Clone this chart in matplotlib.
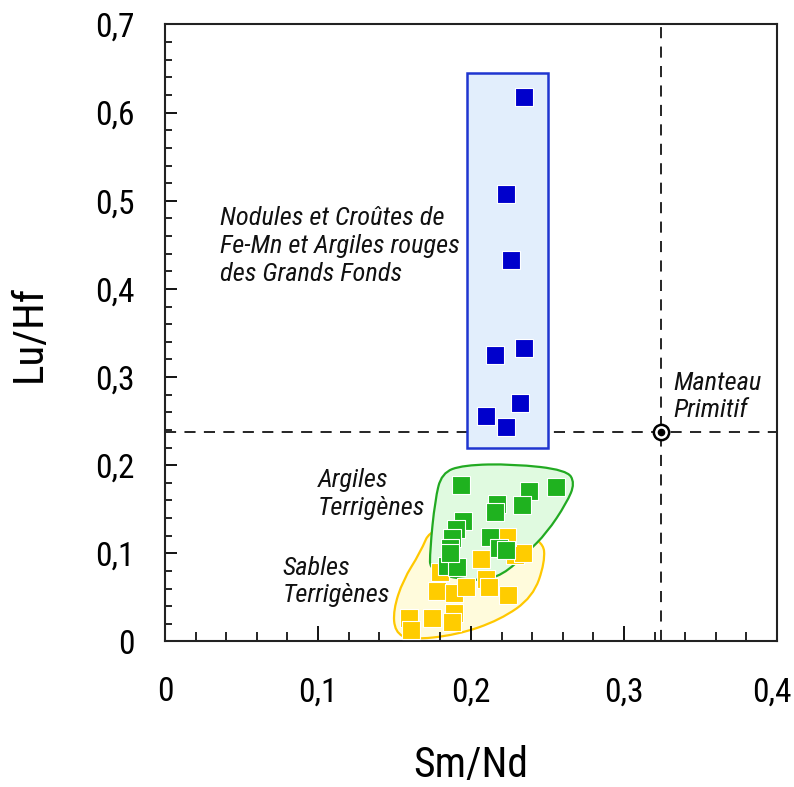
import matplotlib
matplotlib.use("Agg")
import matplotlib.pyplot as plt
from matplotlib import font_manager
from matplotlib.path import Path
from matplotlib.patches import PathPatch, Rectangle
from matplotlib.ticker import MultipleLocator, FixedLocator, FixedFormatter
from matplotlib.transforms import ScaledTranslation

# ---------------- data ----------------
blue_smnd = [0.2346, 0.2229, 0.2261, 0.2346, 0.2157, 0.2320, 0.2098, 0.2229]
blue_luhf = [0.6177, 0.5077, 0.4328, 0.3330, 0.3250, 0.2706, 0.2558, 0.2433]

green_smnd = [0.1933, 0.2379, 0.2556, 0.2168, 0.2157, 0.2331, 0.1950, 0.1902,
              0.1874, 0.1863, 0.2124, 0.2183, 0.2229, 0.1845, 0.1907, 0.1863]
green_luhf = [0.1779, 0.1704, 0.1756, 0.1556, 0.1472, 0.1549, 0.1370, 0.1273,
              0.1171, 0.1057, 0.1189, 0.1061, 0.1038, 0.0856, 0.0849, 0.1007]

yellow_smnd = [0.1597, 0.1606, 0.1743, 0.1891, 0.1874, 0.1776, 0.1891, 0.1967,
               0.2098, 0.2120, 0.2244, 0.1797, 0.2065, 0.2288, 0.2342, 0.2237]
yellow_luhf = [0.0263, 0.0130, 0.0263, 0.0320, 0.0225, 0.0573, 0.0554, 0.0622,
               0.0706, 0.0622, 0.0528, 0.0792, 0.0933, 0.0981, 0.1001, 0.1189]

mantle_smnd = 0.3245
mantle_luhf = 0.238

# field outlines (control points)
green_field_x = [0.1808, 0.1948, 0.2275, 0.2625, 0.2680, 0.2625, 0.2495, 0.2364,
                 0.2209, 0.2039, 0.1732, 0.1732, 0.1765]
green_field_y = [0.1911, 0.2002, 0.2014, 0.1946, 0.1798, 0.1571, 0.1231, 0.1004,
                 0.0754, 0.0678, 0.0777, 0.1038, 0.1605]
yellow_field_x = [0.1743, 0.1667, 0.1556, 0.1492, 0.1503, 0.1601, 0.1907, 0.2190,
                  0.2405, 0.2484, 0.2471, 0.2190]
yellow_field_y = [0.1310, 0.1004, 0.0698, 0.0357, 0.0108, 0.0017, 0.0074, 0.0244,
                  0.0505, 0.0902, 0.1151, 0.1322]
blue_box_x = [0.1974, 0.2503]
blue_box_y = [0.2195, 0.645]

x_ticks = [0, 0.1, 0.2, 0.3, 0.4]
x_ticklabels = ['0', '0,1', '0,2', '0,3', '0,4']
y_ticks = [0, 0.1, 0.2, 0.3, 0.4, 0.5, 0.6, 0.7]
y_ticklabels = ['0', '0,1', '0,2', '0,3', '0,4', '0,5', '0,6', '0,7']

# ---------------- fonts ----------------
names = {f.name for f in font_manager.fontManager.ttflist}
fam = 'Liberation Sans'
for cand in ['Nimbus Sans Narrow', 'Liberation Sans Narrow', 'Roboto Condensed',
             'Archivo Narrow', 'PT Sans Narrow']:
    if cand in names:
        fam = cand
        break
plt.rcParams['font.family'] = [fam, 'DejaVu Sans']
plt.rcParams['lines.scale_dashes'] = False

fig = plt.figure(figsize=(7.94, 7.87), dpi=100)
ax = fig.add_axes([0.2078, 0.1849, 0.9786 - 0.2078, 0.9689 - 0.1849])
ax.set_xlim(0, 0.4)
ax.set_ylim(0, 0.7)


def smooth_closed(xs, ys):
    pts = list(zip(xs, ys))
    n = len(pts)
    mid = lambda a, b: ((a[0] + b[0]) / 2, (a[1] + b[1]) / 2)
    verts = [mid(pts[-1], pts[0])]
    codes = [Path.MOVETO]
    for i in range(n):
        verts += [pts[i], mid(pts[i], pts[(i + 1) % n])]
        codes += [Path.CURVE3, Path.CURVE3]
    return Path(verts, codes)


# dashed reference lines
ax.axhline(mantle_luhf, color='black', lw=1.2, dashes=(8, 6), zorder=0.5)
ax.axvline(mantle_smnd, color='black', lw=1.2, dashes=(8, 6), zorder=0.5)

# fields
ax.add_patch(PathPatch(smooth_closed(yellow_field_x, yellow_field_y),
                       facecolor='#fffbdc', edgecolor='#ffc800', lw=1.6, zorder=1))
ax.add_patch(PathPatch(smooth_closed(green_field_x, green_field_y),
                       facecolor='#e0fae0', edgecolor='#22aa22', lw=1.6, zorder=1.1))
ax.add_patch(Rectangle((blue_box_x[0], blue_box_y[0]),
                       blue_box_x[1] - blue_box_x[0], blue_box_y[1] - blue_box_y[0],
                       facecolor='#e2eefc', edgecolor='#1f35d0', lw=1.8, zorder=1.2))

# points
ax.scatter(yellow_smnd, yellow_luhf, marker='s', s=155, color='#ffcc00',
           edgecolors='white', linewidths=0.8, zorder=3)
ax.scatter(green_smnd, green_luhf, marker='s', s=155, color='#1fb21f',
           edgecolors='white', linewidths=0.8, zorder=4)
ax.scatter(blue_smnd, blue_luhf, marker='s', s=155, color='#0000cc',
           edgecolors='white', linewidths=0.8, zorder=4)

ax.plot([mantle_smnd], [mantle_luhf], marker='o', ms=11, mfc='white', mec='black',
        mew=1.8, zorder=5)
ax.plot([mantle_smnd], [mantle_luhf], marker='o', ms=4.5, mfc='black', mec='black',
        zorder=6)

# texts
tkw = dict(style='italic', fontsize=19, ha='left', va='center', color='#111111')
ax.text(0.036, 0.449, 'Nodules et Croûtes de\nFe-Mn et Argiles rouges\ndes Grands Fonds', **tkw)
ax.text(0.332, 0.278, 'Manteau\nPrimitif', **tkw)
ax.text(0.100, 0.167, 'Argiles\nTerrigènes', **tkw)
ax.text(0.077, 0.068, 'Sables\nTerrigènes', **tkw)

# axes styling
for s in ax.spines.values():
    s.set_linewidth(1.5)
    s.set_color('#222222')
ax.xaxis.set_major_locator(FixedLocator(x_ticks))
ax.xaxis.set_major_formatter(FixedFormatter(x_ticklabels))
ax.yaxis.set_major_locator(FixedLocator(y_ticks))
ax.yaxis.set_major_formatter(FixedFormatter(y_ticklabels))
ax.xaxis.set_minor_locator(MultipleLocator(0.02))
ax.yaxis.set_minor_locator(MultipleLocator(0.02))
ax.tick_params(axis='x', which='major', direction='in', length=11, width=1.3, pad=25,
               labelsize=24, top=False)
ax.tick_params(axis='x', which='minor', direction='in', length=6.5, width=1.2, top=False)
ax.tick_params(axis='y', which='major', direction='in', length=8.5, width=1.3, pad=22,
               labelsize=24, right=False)
ax.tick_params(axis='y', which='minor', direction='in', length=5, width=1.2, right=False)

ax.set_xlabel('Sm/Nd', fontsize=30, va='top')
ax.xaxis.set_label_coords(0.5, -0.168)
ax.set_ylabel('Lu/Hf', fontsize=31, va='center', ha='center')
ax.yaxis.set_label_coords(-0.221, 0.5)

# nudge the last x tick label slightly left so it stays inside the image
fig.canvas.draw()
last = ax.xaxis.get_major_ticks()[-1].label1
last.set_transform(last.get_transform() + ScaledTranslation(-5 / 100, 0, fig.dpi_scale_trans))

fig.savefig('out.png', dpi=100)
